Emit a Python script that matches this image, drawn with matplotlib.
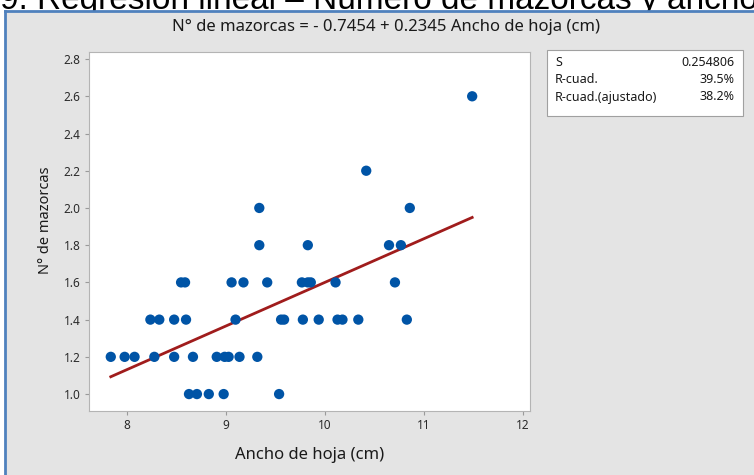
import numpy as np
import matplotlib.pyplot as plt
from matplotlib.patches import Rectangle
from matplotlib.lines import Line2D

# Data (Minitab style)
ancho_hoja = [8.24, 8.33, 8.48, 8.60, 9.10, 9.56, 9.59, 9.78, 9.94, 10.13, 10.18, 10.34, 10.83,
              7.84, 7.98, 8.08, 8.28, 8.48, 8.67, 8.91, 8.99, 9.03, 9.14, 9.32,
              8.63, 8.71, 8.83, 8.98, 9.54,
              8.55, 8.59, 9.06, 9.18, 9.42, 9.77, 9.83, 9.86, 10.11, 10.71,
              9.34, 9.83, 10.65, 10.77,
              9.34, 10.86,
              10.42,
              11.49]
mazorcas = [1.4] * 13 + [1.2] * 11 + [1.0] * 5 + [1.6] * 10 + [1.8] * 4 + [2.0] * 2 + [2.2] + [2.6]

b0, b1 = -0.7454, 0.2345
stats_names = ["S", "R-cuad.", "R-cuad.(ajustado)"]
stats_vals = ["0.254806", "39.5%", "38.2%"]

plt.rcParams['font.family'] = ['Noto Sans', 'DejaVu Sans']

W, H = 754, 475
fig = plt.figure(figsize=(W / 100, H / 100), dpi=100)
fig.patch.set_facecolor('white')

def fx(px):
    return px / W

def fy(py):
    return 1 - py / H

# document heading, cut off by the top edge like in the screenshot
fig.text(fx(0), fy(9), "9. Regresión lineal \u2013 Número de mazorcas y ancho",
         fontsize=24, family='Liberation Sans', color='black', va='baseline', ha='left', zorder=0)

# gray panel with blue frame
panel = Rectangle((fx(5), 0), 1 - fx(5), fy(11), transform=fig.transFigure,
                  facecolor='#e4e4e4', edgecolor='none', zorder=1)
fig.add_artist(panel)
fig.add_artist(Line2D([fx(5), 1], [fy(11), fy(11)], transform=fig.transFigure,
                      color='#4f81bd', lw=2, zorder=2))
fig.add_artist(Line2D([fx(5), fx(5)], [0, fy(11)], transform=fig.transFigure,
                      color='#4f81bd', lw=2, zorder=2))

ax = fig.add_axes([fx(89), fy(411), fx(530) - fx(89), fy(52) - fy(411)], zorder=3)
ax.set_facecolor('white')
ax.scatter(ancho_hoja, mazorcas, s=55, color='#0054a6', edgecolors='none', zorder=3)
xs = np.array([min(ancho_hoja), max(ancho_hoja)])
ax.plot(xs, b0 + b1 * xs, color='#a01c1c', lw=2, zorder=2)

ax.set_xlim(7.62, 12.074)
ax.set_ylim(0.909, 2.838)
ax.set_xticks([8, 9, 10, 11, 12])
ax.set_yticks(np.round(np.arange(1.0, 2.81, 0.2), 1))
ax.set_yticklabels(["%.1f" % v for v in np.arange(1.0, 2.81, 0.2)])
for sp in ax.spines.values():
    sp.set_color('#b4b4b4')
ax.tick_params(colors='#9a9a9a', labelcolor='#2a2a2a', labelsize=8.5, length=3, width=0.8, pad=3)

ax.set_xlabel("Ancho de hoja (cm)", fontsize=12, color='#1a1a1a')
ax.set_ylabel("N° de mazorcas", fontsize=10.5, color='#1a1a1a')
ax.xaxis.set_label_coords(0.5, -(447 - 411) / 359)
ax.yaxis.set_label_coords(-(89 - 53) / 441, (411 - 220) / 359)

fig.text(fx(386), fy(27), "N° de mazorcas = - 0.7454 + 0.2345 Ancho de hoja (cm)",
         fontsize=12, color='#1a1a1a', ha='center', va='center', zorder=4)

# summary box
box = Rectangle((fx(547), fy(116)), fx(743) - fx(547), fy(50) - fy(116), transform=fig.transFigure,
                facecolor='white', edgecolor='#a0a0a0', lw=0.8, zorder=3)
fig.add_artist(box)
for i, (n, v) in enumerate(zip(stats_names, stats_vals)):
    yy = fy(62 + i * 17.5)
    fig.text(fx(555), yy, n, fontsize=9, color='#1a1a1a', ha='left', va='center', zorder=4)
    fig.text(fx(735), yy, v, fontsize=9, color='#1a1a1a', ha='right', va='center', zorder=4)

fig.savefig('out.png', dpi=100)
